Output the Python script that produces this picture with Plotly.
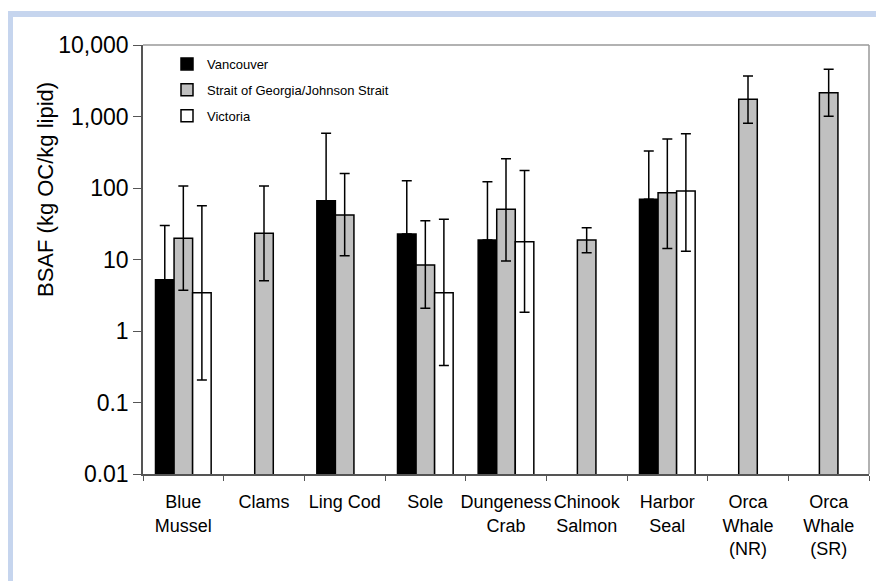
import plotly.graph_objects as go

categories = ["Blue<br>Mussel", "Clams", "Ling Cod", "Sole", "Dungeness<br>Crab",
              "Chinook<br>Salmon", "Harbor<br>Seal", "Orca<br>Whale<br>(NR)", "Orca<br>Whale<br>(SR)"]

vancouver = [5.2, None, 66.5, 22.7, 18.7, None, 69.5, None, None]
vancouver_hi = [30, None, 582, 126, 122, None, 329, None, None]

strait = [19.8, 23.2, 41.9, 8.4, 50.4, 18.7, 86, 1740, 2150]
strait_hi = [107, 107, 160, 34.9, 257, 27.9, 484, 3680, 4570]
strait_lo = [3.7, 5.05, 11.3, 2.08, 9.5, 12.4, 14.3, 803, 1007]

victoria = [3.43, None, None, 3.43, 17.7, None, 90.8, None, None]
victoria_hi = [56.5, None, None, 36.5, 175, None, 575, None, None]
victoria_lo = [0.207, None, None, 0.33, 1.83, None, 13.0, None, None]

tick_vals = [0.01, 0.1, 1, 10, 100, 1000, 10000]
tick_text = ["0.01", "0.1", "1", "10", "100", "1,000", "10,000"]

FONT = "Liberation Sans, Arial, sans-serif"
OFF = 8  # page body margin of the browser
W, H = 884 - OFF, 581 - OFF
ML, MR, MT, MB = 143 - OFF, 15, 45 - OFF, 107
PW, PH = W - ML - MR, H - MT - MB


def px_x(p):
    # p in reference-image pixels
    return (p - OFF - ML) / PW


def px_y(p):
    return (H - MB - (p - OFF)) / PH


def errs(vals, hi, lo):
    plus, minus = [], []
    for i, v in enumerate(vals):
        if v is None:
            plus.append(0)
            minus.append(0)
            continue
        plus.append(hi[i] - v if hi[i] is not None else 0)
        minus.append(v - lo[i] if (lo is not None and lo[i] is not None) else 0)
    return plus, minus


fig = go.Figure()
series = [
    ("Vancouver", vancouver, vancouver_hi, None, "#000000"),
    ("Strait of Georgia/Johnson Strait", strait, strait_hi, strait_lo, "#c0c0c0"),
    ("Victoria", victoria, victoria_hi, victoria_lo, "#ffffff"),
]
for name, vals, hi, lo, color in series:
    plus, minus = errs(vals, hi, lo)
    fig.add_trace(go.Bar(
        x=categories, y=vals, name=name, legendgroup=name,
        marker=dict(color=color, line=dict(color="#000000", width=1.5)),
        error_y=dict(type="data", symmetric=False, array=plus, arrayminus=minus,
                     color="#000000", thickness=1.5, width=5),
    ))

fig.update_layout(
    width=W, height=H,
    margin=dict(l=ML, r=MR, t=MT, b=MB, pad=0),
    paper_bgcolor="white", plot_bgcolor="white",
    barmode="group", bargap=0.31, bargroupgap=0,
    font=dict(family=FONT, color="#000000"),
    showlegend=True,
    legend=dict(x=px_x(167), y=px_y(49), xanchor="left", yanchor="top",
                bgcolor="rgba(0,0,0,0)", font=dict(size=13, family=FONT),
                traceorder="grouped", tracegroupgap=6),
    xaxis=dict(type="category", showline=True, linecolor="#555555", linewidth=1.5,
               ticks="outside", tickson="boundaries", ticklen=5, tickcolor="#555555",
               tickangle=0, ticklabelstandoff=11,
               tickfont=dict(size=18, family=FONT), showgrid=False, zeroline=False),
    yaxis=dict(type="log", range=[-2, 4], showline=True, linecolor="#555555", linewidth=1.5,
               ticks="outside", ticklen=8, tickcolor="#555555",
               tickvals=tick_vals, ticktext=tick_text,
               tickfont=dict(size=23, family=FONT), showgrid=False, zeroline=False),
    annotations=[dict(text="BSAF (kg OC/kg lipid)", textangle=-90, showarrow=False,
                      xref="paper", yref="paper", x=px_x(45), y=px_y(190),
                      xanchor="center", yanchor="middle",
                      font=dict(size=22, family=FONT, color="#000000"))],
    shapes=[
        dict(type="line", xref="paper", yref="paper", x0=0, x1=1, y0=1, y1=1,
             line=dict(color="#999999", width=1.5)),
        dict(type="line", xref="paper", yref="paper", x0=1, x1=1, y0=0, y1=1,
             line=dict(color="#999999", width=1.5)),
        dict(type="rect", xref="paper", yref="paper", x0=px_x(7), x1=px_x(13),
             y0=px_y(600), y1=px_y(11), fillcolor="#c6d5ee", line=dict(width=0), layer="below"),
        dict(type="rect", xref="paper", yref="paper", x0=px_x(7), x1=px_x(900),
             y0=px_y(17), y1=px_y(11), fillcolor="#c6d5ee", line=dict(width=0), layer="below"),
    ],
)

fig.write_html("out.html")
